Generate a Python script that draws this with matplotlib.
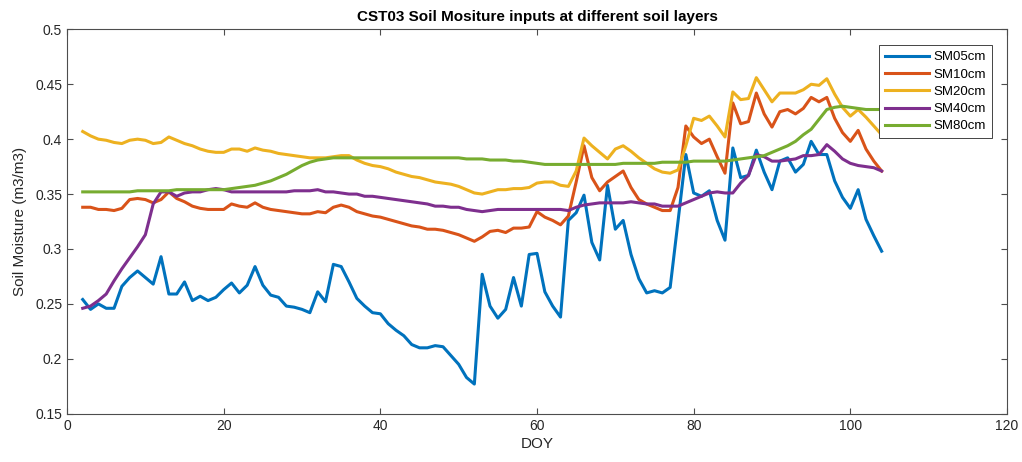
import numpy as np
import matplotlib
matplotlib.use('Agg')
import matplotlib.pyplot as plt

# DOY 2..104
doy = list(range(2, 105))

sm05 = [0.254, 0.245, 0.250, 0.246, 0.246, 0.266, 0.274, 0.280, 0.274, 0.268,
        0.293, 0.259, 0.259, 0.270, 0.253, 0.257, 0.253, 0.256, 0.263, 0.269,
        0.260, 0.267, 0.284, 0.267, 0.258, 0.256, 0.248, 0.247, 0.245, 0.242,
        0.261, 0.252, 0.286, 0.284, 0.270, 0.255, 0.248, 0.242, 0.241, 0.232,
        0.226, 0.221, 0.213, 0.210, 0.210, 0.212, 0.211, 0.203, 0.195, 0.183,
        0.177, 0.277, 0.248, 0.237, 0.245, 0.274, 0.248, 0.295, 0.296, 0.261,
        0.248, 0.238, 0.326, 0.333, 0.349, 0.306, 0.290, 0.358, 0.318, 0.326,
        0.295, 0.273, 0.260, 0.262, 0.260, 0.265, 0.325, 0.386, 0.351, 0.348,
        0.353, 0.326, 0.308, 0.392, 0.365, 0.367, 0.390, 0.370, 0.354, 0.380,
        0.383, 0.370, 0.377, 0.398, 0.386, 0.386, 0.362, 0.347, 0.337, 0.354,
        0.327, 0.312, 0.298]

sm10 = [0.338, 0.338, 0.336, 0.336, 0.335, 0.337, 0.345, 0.346, 0.345, 0.342,
        0.345, 0.352, 0.346, 0.343, 0.339, 0.337, 0.336, 0.336, 0.336, 0.341,
        0.339, 0.338, 0.342, 0.338, 0.336, 0.335, 0.334, 0.333, 0.332, 0.332,
        0.334, 0.333, 0.338, 0.340, 0.338, 0.334, 0.332, 0.330, 0.329, 0.327,
        0.325, 0.323, 0.321, 0.320, 0.318, 0.318, 0.317, 0.315, 0.313, 0.310,
        0.307, 0.311, 0.316, 0.317, 0.315, 0.319, 0.319, 0.320, 0.334, 0.329,
        0.326, 0.322, 0.330, 0.361, 0.394, 0.365, 0.353, 0.361, 0.366, 0.371,
        0.356, 0.345, 0.341, 0.338, 0.335, 0.335, 0.356, 0.412, 0.402, 0.396,
        0.400, 0.384, 0.369, 0.433, 0.414, 0.416, 0.442, 0.423, 0.411, 0.425,
        0.427, 0.423, 0.428, 0.438, 0.434, 0.438, 0.419, 0.406, 0.398, 0.408,
        0.391, 0.380, 0.371]

sm20 = [0.407, 0.403, 0.400, 0.399, 0.397, 0.396, 0.399, 0.400, 0.399, 0.396,
        0.397, 0.402, 0.399, 0.396, 0.394, 0.391, 0.389, 0.388, 0.388, 0.391,
        0.391, 0.389, 0.392, 0.390, 0.389, 0.387, 0.386, 0.385, 0.384, 0.383,
        0.383, 0.383, 0.384, 0.385, 0.385, 0.381, 0.378, 0.376, 0.375, 0.373,
        0.370, 0.368, 0.366, 0.365, 0.363, 0.361, 0.360, 0.359, 0.357, 0.354,
        0.351, 0.350, 0.352, 0.354, 0.354, 0.355, 0.355, 0.356, 0.360, 0.361,
        0.361, 0.358, 0.357, 0.371, 0.401, 0.394, 0.388, 0.382, 0.391, 0.394,
        0.389, 0.383, 0.378, 0.373, 0.370, 0.369, 0.372, 0.394, 0.419, 0.417,
        0.421, 0.412, 0.402, 0.443, 0.436, 0.437, 0.456, 0.445, 0.434, 0.442,
        0.442, 0.442, 0.445, 0.450, 0.449, 0.455, 0.441, 0.429, 0.421, 0.427,
        0.420, 0.412, 0.404]

sm40 = [0.246, 0.248, 0.253, 0.259, 0.271, 0.282, 0.292, 0.302, 0.313, 0.341,
        0.352, 0.352, 0.348, 0.351, 0.352, 0.352, 0.354, 0.355, 0.354, 0.352,
        0.352, 0.352, 0.352, 0.352, 0.352, 0.352, 0.352, 0.353, 0.353, 0.353,
        0.354, 0.352, 0.352, 0.351, 0.350, 0.350, 0.348, 0.348, 0.347, 0.346,
        0.345, 0.344, 0.343, 0.342, 0.341, 0.339, 0.339, 0.338, 0.338, 0.336,
        0.335, 0.334, 0.335, 0.336, 0.336, 0.336, 0.336, 0.336, 0.336, 0.336,
        0.336, 0.336, 0.335, 0.338, 0.340, 0.341, 0.342, 0.342, 0.342, 0.342,
        0.343, 0.342, 0.341, 0.341, 0.339, 0.339, 0.339, 0.342, 0.345, 0.348,
        0.351, 0.352, 0.351, 0.351, 0.360, 0.367, 0.386, 0.384, 0.380, 0.380,
        0.381, 0.382, 0.385, 0.385, 0.386, 0.395, 0.389, 0.382, 0.378, 0.376,
        0.375, 0.374, 0.371]

sm80 = [0.352, 0.352, 0.352, 0.352, 0.352, 0.352, 0.352, 0.353, 0.353, 0.353,
        0.353, 0.353, 0.354, 0.354, 0.354, 0.354, 0.354, 0.354, 0.354, 0.355,
        0.356, 0.357, 0.358, 0.360, 0.362, 0.365, 0.368, 0.372, 0.376, 0.379,
        0.381, 0.382, 0.383, 0.383, 0.383, 0.383, 0.383, 0.383, 0.383, 0.383,
        0.383, 0.383, 0.383, 0.383, 0.383, 0.383, 0.383, 0.383, 0.383, 0.382,
        0.382, 0.382, 0.381, 0.381, 0.381, 0.380, 0.380, 0.379, 0.378, 0.377,
        0.377, 0.377, 0.377, 0.377, 0.377, 0.377, 0.377, 0.377, 0.377, 0.378,
        0.378, 0.378, 0.378, 0.378, 0.379, 0.379, 0.379, 0.379, 0.380, 0.380,
        0.380, 0.380, 0.380, 0.381, 0.382, 0.383, 0.384, 0.385, 0.388, 0.391,
        0.394, 0.398, 0.404, 0.409, 0.418, 0.427, 0.429, 0.430, 0.429, 0.428,
        0.427, 0.427, 0.427]

labels = ['SM05cm', 'SM10cm', 'SM20cm', 'SM40cm', 'SM80cm']
colors = ['#0072BD', '#D95319', '#EDB120', '#7E2F8E', '#77AC30']

plt.rcParams['font.family'] = ['Liberation Sans', 'DejaVu Sans']

fig = plt.figure(figsize=(10.22, 4.62), dpi=100)
ax = fig.add_axes([0.0656, 0.1045, 0.9197, 0.8320])

for vals, lab, c in zip([sm05, sm10, sm20, sm40, sm80], labels, colors):
    ax.plot(doy, vals, color=c, linewidth=2.2, label=lab)

ax.set_xlim(0, 120)
ax.set_ylim(0.15, 0.5)
ax.set_xticks(range(0, 121, 20))
ax.set_yticks(np.arange(0.15, 0.501, 0.05))
ax.set_yticklabels(['0.15', '0.2', '0.25', '0.3', '0.35', '0.4', '0.45', '0.5'])

grey = '#262626'
for s in ax.spines.values():
    s.set_color('#4d4d4d')
    s.set_linewidth(0.8)
ax.tick_params(direction='in', top=True, right=True, length=4, width=0.8,
               colors='#4d4d4d', labelcolor=grey, labelsize=10)

ax.set_title('CST03 Soil Mositure inputs at different soil layers',
             fontsize=11, fontweight='bold', color='black', pad=6)
ax.set_xlabel('DOY', fontsize=11, color=grey, labelpad=3)
ax.set_ylabel('Soil Moisture (m3/m3)', fontsize=11, color=grey, labelpad=6)

# legend box sits a little inside the top-right corner
leg = ax.legend(loc='upper right', bbox_to_anchor=(0.984, 0.9585),
                fontsize=9.5, fancybox=False, framealpha=1, edgecolor='#262626',
                handlelength=3.3, borderpad=0.45, labelspacing=0.38,
                handletextpad=0.35, borderaxespad=0.0)
leg.get_frame().set_linewidth(0.6)

fig.savefig('out.png', dpi=100)
